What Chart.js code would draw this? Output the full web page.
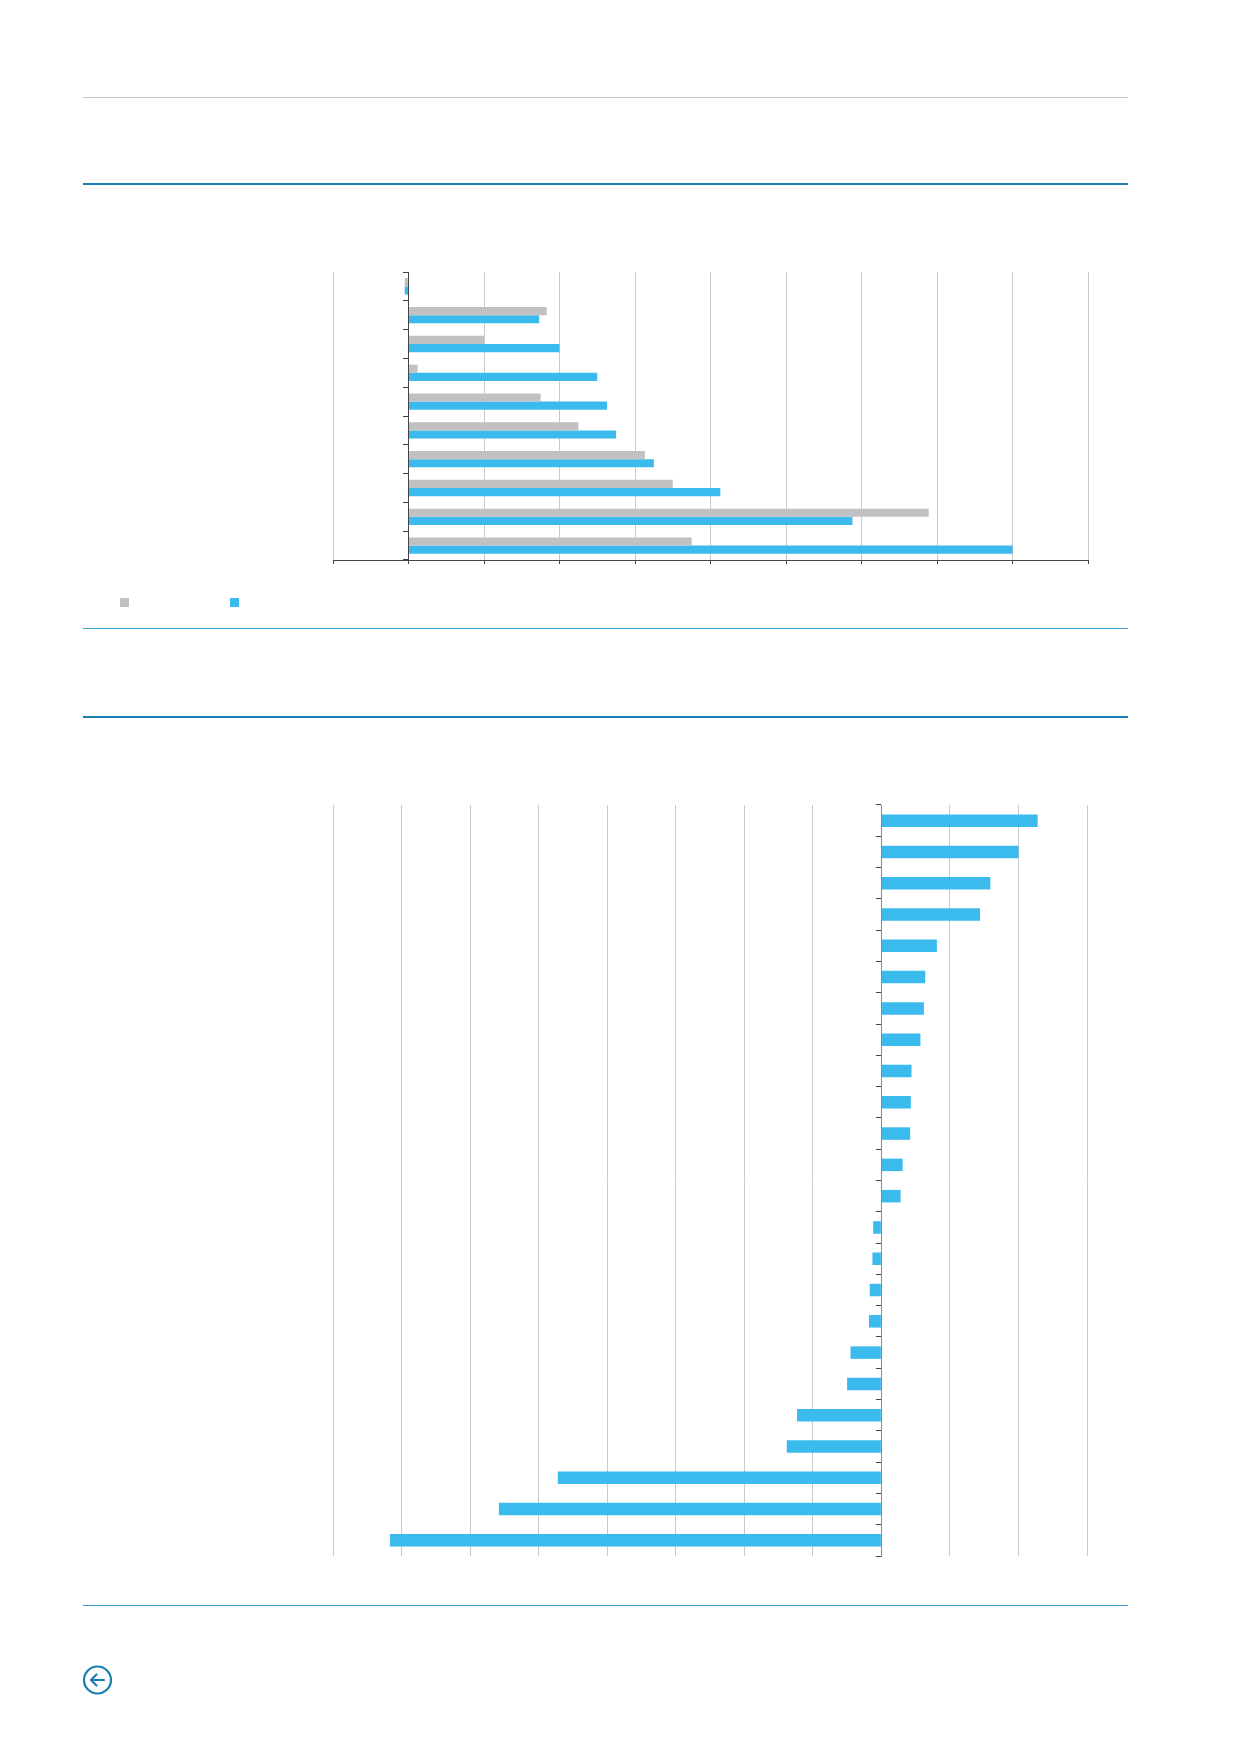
<!DOCTYPE html>
<html>
<head>
<meta charset="utf-8">
<script src="https://cdn.jsdelivr.net/npm/chart.js@4.4.1/dist/chart.umd.min.js"></script>
<style>
  html, body { margin: 0; padding: 0; background: #ffffff; }
  body { width: 1240px; height: 1754px; position: relative; overflow: hidden; font-family: "Open Sans", sans-serif; }
  .rule { position: absolute; left: 83px; width: 1045px; }
  .cv { position: absolute; }
  .sq { position: absolute; width: 9px; height: 9px; }
</style>
</head>
<body>
<div class="rule" style="top:97px;height:1px;background:#c4c4c4;"></div>
<div class="rule" style="top:183px;height:2px;background:#1b7db3;"></div>
<div class="rule" style="top:628px;height:1px;background:#3c9dcf;"></div>
<div class="rule" style="top:716px;height:2px;background:#1b7db3;"></div>
<div class="rule" style="top:1605px;height:1px;background:#3c9dcf;"></div>

<div class="cv" style="left:323px;top:268px;width:775px;height:300px;"><canvas id="c1" width="775" height="300"></canvas></div>
<div class="sq" style="left:120px;top:598px;background:#c1c0c2;"></div>
<div class="sq" style="left:230px;top:598px;background:#3bbbed;"></div>

<div class="cv" style="left:323px;top:801px;width:774px;height:759px;"><canvas id="c2" width="774" height="759"></canvas></div>

<svg style="position:absolute;left:80px;top:1663px;" width="36" height="36" viewBox="0 0 36 36">
  <circle cx="17.5" cy="17" r="13.5" fill="none" stroke="#1b7db3" stroke-width="2.2"/>
  <path d="M24 17 H11 M16.5 11.5 L11 17 L16.5 22.5" fill="none" stroke="#1b7db3" stroke-width="2.2" stroke-linecap="round" stroke-linejoin="round"/>
</svg>

<script>
// Chart 1 (10 categories, two series)
const cats1 = ['1','2','3','4','5','6','7','8','9','10'];
const graySeries = [-0.05, 1.83, 1.0, 0.12, 1.75, 2.25, 3.13, 3.50, 6.89, 3.75];
const blueSeries = [-0.05, 1.73, 2.0, 2.50, 2.63, 2.75, 3.25, 4.13, 5.88, 8.0];
const x1Min = -1, x1Max = 9;

// Chart 2 (24 categories, one series)
const cats2 = ['1','2','3','4','5','6','7','8','9','10','11','12','13','14','15','16','17','18','19','20','21','22','23','24'];
const values2 = [2.28, 2.0, 1.59, 1.44, 0.81, 0.64, 0.62, 0.57, 0.44, 0.43, 0.42, 0.31, 0.28,
                 -0.12, -0.13, -0.17, -0.18, -0.45, -0.50, -1.23, -1.38, -4.72, -5.58, -7.17];
const x2Min = -8, x2Max = 3;

const GRID = '#c9c9c9';
const GRAY = '#c1c0c2';
const BLUE = '#3bbbed';

new Chart(document.getElementById('c1'), {
  type: 'bar',
  data: {
    labels: cats1,
    datasets: [
      { data: graySeries, backgroundColor: GRAY, borderWidth: 0, categoryPercentage: 0.567, barPercentage: 1 },
      { data: blueSeries, backgroundColor: BLUE, borderWidth: 0, categoryPercentage: 0.567, barPercentage: 1 }
    ]
  },
  options: {
    indexAxis: 'y',
    responsive: false,
    animation: false,
    devicePixelRatio: 1,
    layout: { padding: { left: 10, right: 10, top: 4, bottom: 4 } },
    plugins: { legend: { display: false }, tooltip: { enabled: false } },
    scales: {
      x: {
        type: 'linear', min: x1Min, max: x1Max,
        ticks: { display: false, stepSize: 1 },
        grid: { color: GRID, lineWidth: 1, tickLength: 4, tickColor: '#444', drawTicks: true },
        border: { display: true, color: '#444', width: 1 }
      },
      y: {
        position: { x: 0 },
        ticks: { display: false },
        grid: { drawOnChartArea: false, drawTicks: true, tickLength: 5, tickColor: '#444', offset: true },
        border: { display: true, color: '#444', width: 1 }
      }
    }
  }
});

new Chart(document.getElementById('c2'), {
  type: 'bar',
  data: {
    labels: cats2,
    datasets: [
      { data: values2, backgroundColor: BLUE, borderWidth: 0, categoryPercentage: 0.4, barPercentage: 1 }
    ]
  },
  options: {
    indexAxis: 'y',
    responsive: false,
    animation: false,
    devicePixelRatio: 1,
    layout: { padding: { left: 10, right: 10, top: 4, bottom: 4 } },
    plugins: { legend: { display: false }, tooltip: { enabled: false } },
    scales: {
      x: {
        type: 'linear', min: x2Min, max: x2Max,
        ticks: { display: false, stepSize: 1 },
        grid: { color: GRID, lineWidth: 1, drawTicks: false },
        border: { display: false }
      },
      y: {
        position: { x: 0 },
        ticks: { display: false },
        grid: { drawOnChartArea: false, drawTicks: true, tickLength: 5, tickColor: '#444', offset: true },
        border: { display: true, color: '#888', width: 1 }
      }
    }
  }
});
</script>
</body>
</html>
